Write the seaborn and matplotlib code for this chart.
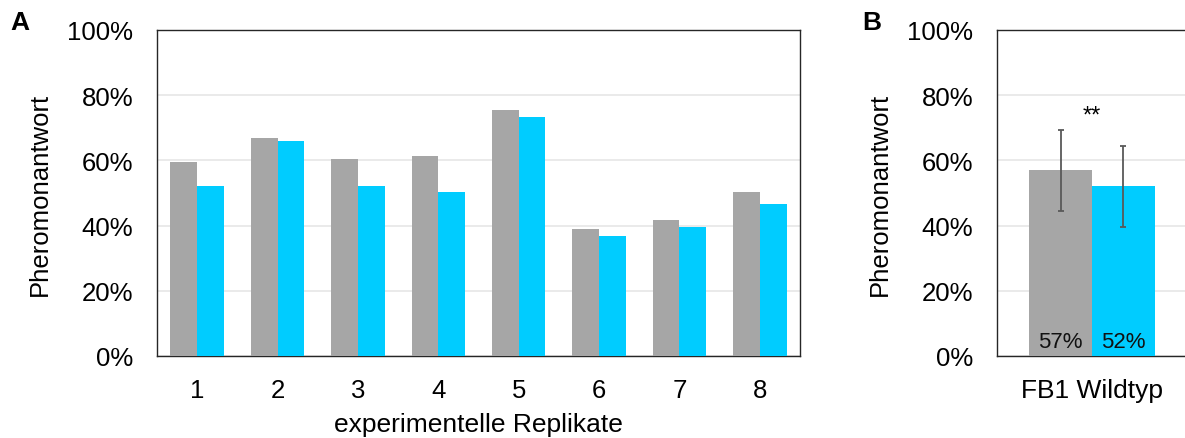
import numpy as np
import pandas as pd
import matplotlib
matplotlib.use("Agg")
import matplotlib.pyplot as plt
from matplotlib.ticker import FixedLocator, FuncFormatter
import seaborn as sns

# --- data -------------------------------------------------------------
replikate = ["1", "2", "3", "4", "5", "6", "7", "8"]
gruppen = ["Kontrolle", "Behandlung"]
kontrolle = [59.4, 67.0, 60.3, 61.5, 75.4, 38.9, 41.6, 50.4]
behandlung = [52.0, 66.1, 52.0, 50.4, 73.2, 36.7, 39.5, 46.5]

gesamt_kategorie = ["FB1 Wildtyp"]
gesamt_mittel = [57, 52]
gesamt_sd = [12.4, 12.4]
signifikanz = "**"

farben = {"Kontrolle": "#A6A6A6", "Behandlung": "#00CCFF"}

# --- style ------------------------------------------------------------
sns.set_style("white")
plt.rcParams["font.family"] = ["Liberation Sans", "DejaVu Sans"]
plt.rcParams["font.size"] = 18
for key in ("text.color", "axes.labelcolor", "xtick.color", "ytick.color"):
    plt.rcParams[key] = "black"
plt.rcParams["axes.edgecolor"] = "#262626"
plt.rcParams["axes.linewidth"] = 1.0

FS = 18.5

W, H = 1185, 439
fig = plt.figure(figsize=(W / 100, H / 100), dpi=100)

def px_axes(left, right, top, bottom):
    return fig.add_axes([left / W, 1 - bottom / H, (right - left) / W, (bottom - top) / H])

axA = px_axes(157, 800, 31, 357)
axB = px_axes(997, 1187, 31, 357)

df_a = pd.DataFrame({
    "Replikat": replikate * 2,
    "Gruppe": [gruppen[0]] * len(replikate) + [gruppen[1]] * len(replikate),
    "Wert": kontrolle + behandlung,
})
df_b = pd.DataFrame({
    "Kategorie": gesamt_kategorie * 2,
    "Gruppe": gruppen,
    "Wert": gesamt_mittel,
})

sns.barplot(data=df_a, x="Replikat", y="Wert", hue="Gruppe", palette=farben,
            saturation=1, width=0.667, gap=0, errorbar=None, legend=False,
            linewidth=0, ax=axA, zorder=3)
sns.barplot(data=df_b, x="Kategorie", y="Wert", hue="Gruppe", palette=farben,
            saturation=1, width=0.663, gap=0, errorbar=None, legend=False,
            linewidth=0, ax=axB, zorder=3)

pct = FuncFormatter(lambda v, _: f"{v:.0f}%")
for ax in (axA, axB):
    ax.set_ylim(0, 100)
    ax.yaxis.set_major_locator(FixedLocator([0, 20, 40, 60, 80, 100]))
    ax.yaxis.set_major_formatter(pct)
    ax.grid(axis="y", color="#E6E6E6", linewidth=1.2, zorder=0)
    ax.set_axisbelow(True)
    ax.tick_params(axis="y", length=0, pad=17, labelsize=FS, colors="black")
    ax.tick_params(axis="x", which="major", length=0, pad=16, labelsize=FS,
                   labelcolor="black")
    ax.set_ylabel("Pheromonantwort", fontsize=FS, labelpad=11, color="black")
    for s in ax.spines.values():
        s.set_visible(True)
        s.set_color("#262626")
        s.set_linewidth(1.0)

# panel A: category separators on the x axis
n = len(replikate)
axA.set_xlim(-0.5, n - 0.5)
axA.xaxis.set_minor_locator(FixedLocator(np.arange(-0.5, n, 1.0)))
axA.tick_params(axis="x", which="minor", direction="inout", length=11.5,
                width=1.0, color="#262626")
axA.set_xlabel("experimentelle Replikate", fontsize=19, labelpad=7, color="black")

# panel B: error bars, significance and value labels
axB.set_xlim(-0.5, 0.5)
axB.set_xlabel("")
axB.tick_params(axis="x", which="major", labelsize=19)
bars = [p for p in axB.patches if p.get_height() > 0]
bars.sort(key=lambda p: p.get_x())
for p, m, sd in zip(bars, gesamt_mittel, gesamt_sd):
    cx = p.get_x() + p.get_width() / 2
    axB.errorbar(cx, m, yerr=sd, fmt="none", ecolor="#595959",
                 elinewidth=1.3, capsize=2.5, capthick=1.3, zorder=4)
    axB.text(cx, 4.6, f"{m:.0f}%", ha="center", va="center",
             fontsize=16, color="#111111", zorder=5)
axB.text(0, 72, signifikanz, ha="center", va="baseline", fontsize=17, zorder=5)

fig.text(10 / W, 1 - 11 / H, "A", fontsize=19, fontweight="bold", va="top", ha="left")
fig.text(862 / W, 1 - 11 / H, "B", fontsize=19, fontweight="bold", va="top", ha="left")

fig.savefig("out.png", dpi=100)
